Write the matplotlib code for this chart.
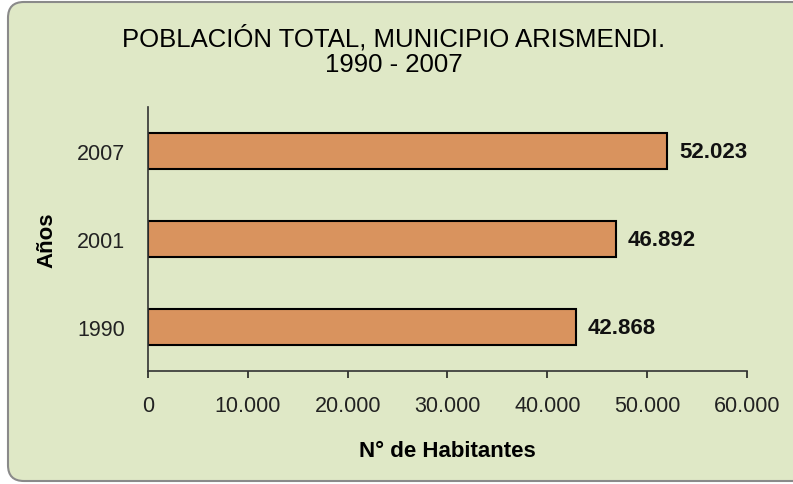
"""
Población total, Municipio Arismendi — horizontal bar chart (1990 - 2007)
"""

import matplotlib.pyplot as plt
from matplotlib.patches import FancyBboxPatch
from matplotlib.ticker import FuncFormatter


# ─── Data ────────────────────────────────────────────────────────────────────

years = ["1990", "2001", "2007"]
population = [42868, 46892, 52023]
x_ticks = [0, 10000, 20000, 30000, 40000, 50000, 60000]

title_lines = ["POBLACIÓN TOTAL, MUNICIPIO ARISMENDI.", "1990 - 2007"]
x_label = "N° de Habitantes"
y_label = "Años"


def miles(v):
    # Spanish thousands separator: 10.000
    return f"{int(v):,}".replace(",", ".")


# ─── Figure ──────────────────────────────────────────────────────────────────

plt.rcParams["font.family"] = ["Liberation Sans", "DejaVu Sans"]

W, H = 793, 485
bg = "#dfe8c6"
bar_color = "#d9935e"

fig = plt.figure(figsize=(W / 100, H / 100), dpi=100, facecolor="white")

# rounded panel behind everything (right edge runs off the image)
panel = FancyBboxPatch((8 / W, 3 / H), 1.05, 479 / H,
                       boxstyle="round,pad=0,rounding_size=0.02",
                       transform=fig.transFigure, facecolor=bg,
                       edgecolor="#8a8a8a", linewidth=1.5, zorder=-10,
                       mutation_aspect=W / H)
fig.patches.append(panel)

ax = fig.add_axes([148 / W, 1 - 372 / H, (747 - 148) / W, (372 - 108) / H])
ax.set_facecolor("none")

pos = range(len(years))
ax.barh(pos, population, height=0.4, color=bar_color,
        edgecolor="black", linewidth=1.5)

for y, v in zip(pos, population):
    ax.text(v + 1200, y, miles(v), va="center", ha="left",
            fontsize=16, fontweight="bold", color="#111111")

ax.set_xlim(0, 60000)
ax.set_ylim(-0.5, len(years) - 0.5)
ax.set_xticks(x_ticks)
ax.xaxis.set_major_formatter(FuncFormatter(lambda v, _: miles(v)))
ax.set_yticks(list(pos))
ax.set_yticklabels(years)

ax.tick_params(axis="x", direction="out", length=5, width=1.2, pad=12,
               labelsize=15.5, colors="#222222")
ax.tick_params(axis="y", length=0, pad=16.5, labelsize=15.5, colors="#222222")

for side in ["top", "right"]:
    ax.spines[side].set_visible(False)
for side in ["left", "bottom"]:
    ax.spines[side].set_color("#333333")
    ax.spines[side].set_linewidth(1.2)

ax.set_xlabel(x_label, fontsize=16, fontweight="bold", va="baseline")
ax.xaxis.set_label_coords(0.5, -(457 - 372) / 264)
ax.set_ylabel(y_label, fontsize=16, fontweight="bold", va="center")
ax.yaxis.set_label_coords(-(148 - 47) / 599, 0.5)

# title, two lines placed by baseline
fig.text(394 / W, 1 - 47 / H, title_lines[0], ha="center", va="baseline",
         fontsize=18.5, color="black")
fig.text(394 / W, 1 - 72 / H, title_lines[1], ha="center", va="baseline",
         fontsize=18.5, color="black")

plt.savefig("out.png", dpi=100, facecolor="white")
